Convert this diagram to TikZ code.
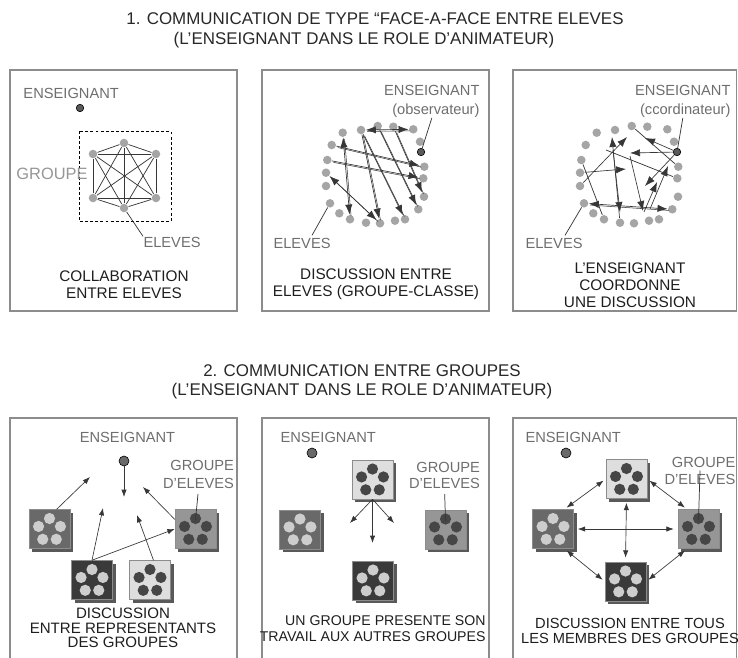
\documentclass[tikz,border=0pt]{standalone}
\usepackage{fontspec}
\setmainfont{Liberation Sans}
\usetikzlibrary{arrows.meta,calc}

\definecolor{cCadre}{RGB}{140,140,140}
\definecolor{cTitre}{RGB}{40,40,40}
\definecolor{cLegende}{RGB}{30,30,30}
\definecolor{cEtiq}{RGB}{110,110,110}
\definecolor{cEtiqClair}{RGB}{150,150,150}
\definecolor{cTrait}{RGB}{55,55,55}
\definecolor{cEleve}{RGB}{165,165,165}
\definecolor{cProf}{RGB}{90,90,90}
\definecolor{cFonce}{RGB}{58,58,58}
\definecolor{cMoyen}{RGB}{105,105,105}
\definecolor{cGris}{RGB}{150,150,150}
\definecolor{cClair}{RGB}{222,222,222}
\definecolor{cPtClair}{RGB}{205,205,205}
\definecolor{cPtFonce}{RGB}{70,70,70}

\tikzset{every picture/.style={line width=0.75pt}}
\tikzset{
  cadre/.style={draw=cCadre, line width=1.1pt},
  titre/.style={text=cTitre, font=\fontsize{12.7}{15}\selectfont, inner sep=0pt},
  legende/.style={text=cLegende, font=\fontsize{11.5}{12.9}\selectfont, align=center, inner sep=0pt},
  legendebas/.style={legende, font=\fontsize{11.3}{10.9}\selectfont},
  etiquette/.style={text=cEtiq, font=\fontsize{11}{14}\selectfont, inner sep=0pt},
  eleve/.style={circle, fill=cEleve, minimum size=6.4pt, inner sep=0pt},
  prof/.style={circle, fill=cProf, draw=black, line width=0.45pt, minimum size=5.6pt, inner sep=0pt},
  profbas/.style={prof, minimum size=7.5pt, fill=cMoyen},
  lien/.style={draw=cTrait, line width=0.55pt},
  renvoi/.style={draw=cTrait, line width=0.55pt},
  fleche/.style={draw=cTrait, line width=0.5pt, -{Latex[length=5.5pt,width=4pt]}},
  fleches/.style={draw=cTrait, line width=0.5pt, {Latex[length=5.5pt,width=4pt]}-{Latex[length=5.5pt,width=4pt]}},
  grosse/.style={draw=cTrait, line width=0.5pt, -{Latex[length=7.5pt,width=5.5pt]}},
  grosses/.style={draw=cTrait, line width=0.5pt, {Latex[length=7.5pt,width=5.5pt]}-{Latex[length=7.5pt,width=5.5pt]}},
  jumelle/.style={postaction={draw=cTrait, line width=0.4pt, -, transform canvas={shift={(1.1pt,-1.1pt)}}}},
  boite/.style={minimum width=30.75pt, minimum height=29.25pt, inner sep=0pt, draw=black!45, line width=0.4pt},
  ombre/.style={boite, fill=black!65, draw=none},
}

\begin{document}
\begin{tikzpicture}[x=0.75pt,y=0.75pt,yscale=-1,xscale=1]
	\useasboundingbox (0,0) rectangle (738,657);

	% Titres
	\node[titre] (t1a) at (375,19) {1. COMMUNICATION DE TYPE “FACE-A-FACE ENTRE ELEVES};
	\node[titre] (t1b) at (364,40) {(L’ENSEIGNANT DANS LE ROLE D’ANIMATEUR)};
	\node[titre] (t2a) at (362,371) {2. COMMUNICATION ENTRE GROUPES};
	\node[titre] (t2b) at (362,391) {(L’ENSEIGNANT DANS LE ROLE D’ANIMATEUR)};

	% Cadres
	\draw[cadre] (10,70) rectangle (237,311);
	\draw[cadre] (262,70) rectangle (489,311);
	\draw[cadre] (513,70) rectangle (736.5,311);
	\draw[cadre] (10,660) -- (10,418) -- (237,418) -- (237,660);
	\draw[cadre] (262,660) -- (262,418) -- (489,418) -- (489,660);
	\draw[cadre] (513,660) -- (513,418) -- (736.5,418) -- (736.5,660);

	%% 1a : collaboration entre eleves
	\node[etiquette, anchor=west] (ens1) at (23,93) {ENSEIGNANT};
	\node[prof] (p1) at (80,108) {};
	\draw[dash pattern=on 2.2pt off 1.6pt, line width=0.7pt] (79,131) rectangle (171,221);
	\node[eleve] (h1) at (124,143) {};
	\node[eleve] (h2) at (156,154) {};
	\node[eleve] (h3) at (156,198) {};
	\node[eleve] (h4) at (124,208) {};
	\node[eleve] (h5) at (93,198) {};
	\node[eleve] (h6) at (93,154) {};
	\foreach \i in {1,...,5}{
		\pgfmathtruncatemacro{\k}{\i+1}
		\foreach \j in {\k,...,6} \draw[lien] (h\i) -- (h\j);
	}
	\node[etiquette, anchor=east, text=cEtiqClair, font=\fontsize{12.3}{14}\selectfont] (grp1) at (88,174) {GROUPE};
	\node[etiquette, anchor=west] (elv1) at (143,242) {ELEVES};
	\draw[renvoi] (h4) -- (elv1.north west);
	\node[legende] (leg1) at (124,285) {COLLABORATION\\ENTRE ELEVES};

	%% 1b et 1c : cercles d'eleves
	\foreach \s/\dx in {a/0,b/254}{
		\foreach \i/\x/\y in {1/342.7/132.7, 2/361/130, 3/377.7/126, 4/393.3/126.7, 5/413.3/129.3, 6/420/141.7, 7/424.3/166.7, 8/423.3/178.3, 9/424/196.7, 10/418.3/209.3, 11/405/219.3, 12/395/220.7, 13/380/223.3, 14/366/222.7, 15/350/219.3, 16/339.3/213.3, 17/330/203.3, 18/326/186, 19/326/172.7, 20/327.3/160, 21/331.7/145}
			\node[eleve] (\s\i) at (\x+\dx,\y) {};
	}
	\node[prof] (pa) at (421,152) {};
	\node[prof] (pb) at (677,152) {};

	% 1b
	\node[etiquette, align=right, anchor=east] (ensa) at (480,101.5) {ENSEIGNANT\\(observateur)};
	\draw[renvoi] (pa) -- (ensa.south);
	\foreach \u/\v in {2/5, 1/15, 19/13} \draw[grosses, jumelle] (a\u) -- (a\v);
	\foreach \u/\v in {21/7, 20/8, 2/11, 3/10, 2/13, 4/9} \draw[grosse, jumelle] (a\u) -- (a\v);
	\node[etiquette, anchor=west] (elva) at (273,243) {ELEVES};
	\draw[renvoi] (a17) -- ($(elva.north)+(10,-2)$);
	\node[legende] (leg2) at (376,284) {DISCUSSION ENTRE\\ELEVES (GROUPE-CLASSE)};

	% 1c
	\node[etiquette, align=right, anchor=east] (ensb) at (731,101.5) {ENSEIGNANT\\(ccordinateur)};
	\draw[renvoi] (pb) -- (ensb.south);
	\coordinate (q1) at (630,153);
	\coordinate (q2) at (645,138);
	\coordinate (q3) at (645,186);
	\coordinate (q4) at (650,209);
	\coordinate (q5) at (668,166);
	\coordinate (q6) at (612,137);
	\coordinate (q7) at (627,137);
	\coordinate (q8) at (626,169);
	\coordinate (q9) at (613,150);
	\coordinate (q10) at (620,212);
	\coordinate (q11) at (630,156);
	\coordinate (q12) at (643,211);
	\coordinate (q13) at (644,212);
	\coordinate (q14) at (657,182);
	\coordinate (q15) at (606,150);
	\foreach \c in {q1,q2,q3} \draw[grosse] (pb) -- (\c);
	\draw[grosse] (q4) -- (q5);
	\draw[grosse] (q13) -- (q14);
	\draw[grosse] (b14) -- (q6);
	\draw[grosse] (b18) -- (q7);
	\draw[grosse] (b19) -- (q8);
	\draw[grosse] (q9) -- (q10);
	\draw[grosse] (q11) -- (q12);
	\draw[grosses, jumelle] (b17) -- (b10);
	\draw[lien] (b20) -- (b15);
	\draw[lien] (q15) -- (b8);
	\draw[lien] (b3) -- (b7);
	\node[etiquette, anchor=west] (elvb) at (525,243) {ELEVES};
	\draw[renvoi] (b17) -- ($(elvb.north)+(11,-2)$);
	\node[legende] (leg3) at (630,285.5) {L’ENSEIGNANT\\COORDONNE\\UNE DISCUSSION};

	%% 2 : groupes d'eleves
	\foreach \nom/\x/\y/\fond/\pnt in {g1a/49.5/529/cMoyen/cPtClair, g1b/195.5/529/cGris/cPtFonce, g1c/92/580/cFonce/cPtClair, g1d/150/580/cClair/cPtFonce,
		g2a/372.5/479.5/cClair/cPtFonce, g2b/300/529.5/cMoyen/cPtClair, g2c/445.5/529.5/cGris/cPtFonce, g2d/373/580.5/cFonce/cPtClair,
		g3a/626.5/479/cClair/cPtFonce, g3b/553/529/cMoyen/cPtClair, g3c/698.5/529/cGris/cPtFonce, g3d/625.5/581.5/cFonce/cPtClair}{
		\node[ombre] at (\x+3,\y+3) {};
		\node[boite, fill=\fond] (\nom) at (\x,\y) {};
		\foreach \ang in {270,342,54,126,198}
			\fill[\pnt] ($(\nom.center)+(0,1)+(\ang:11.5)$) circle (5.6);
	}

	% 2a
	\node[etiquette] (ens4) at (127.5,437) {ENSEIGNANT};
	\node[profbas] (p4) at (124,461) {};
	\coordinate (q20) at (124,497);
	\draw[fleche] (p4) -- (q20);
	\node[etiquette, align=right, font=\fontsize{11}{13.5}\selectfont] (grp4) at (198.5,474) {GROUPE\\D’ELEVES};
	\draw[renvoi, shorten <=4pt] (grp4.south) -- ($(g1b.center)+(0,-9)$);
	\coordinate (q21) at (90,477);
	\coordinate (q22) at (103,508);
	\coordinate (q23) at (137,515);
	\coordinate (q24) at (143,487);
	\draw[fleche] (g1a.70) -- (q21);
	\draw[fleche] (g1c.north) -- (q22);
	\draw[fleche] (g1c.north) -- (g1b.west);
	\draw[fleche] (g1d.80) -- (q23);
	\draw[fleche] (g1b.155) -- (q24);
	\node[legendebas] (leg4) at (123,628) {DISCUSSION\\ENTRE REPRESENTANTS\\DES GROUPES};

	% 2b
	\node[etiquette, anchor=west] (ens5) at (280,437) {ENSEIGNANT};
	\node[profbas] (p5) at (312,453) {};
	\node[etiquette, align=right, font=\fontsize{11}{12}\selectfont] (grp5) at (444.5,475) {GROUPE\\D’ELEVES};
	\draw[renvoi, shorten <=4pt] (grp5.south) -- ($(g2c.center)+(0,-9)$);
	\coordinate (q25) at (350,523);
	\coordinate (q26) at (372.5,543);
	\coordinate (q27) at (394,523);
	\foreach \c in {q25,q26,q27} \draw[fleche] (g2a.south) -- (\c);
	\node[legendebas, align=right, anchor=east, font=\fontsize{10.6}{12}\selectfont] (leg5) at (486,629) {UN GROUPE PRESENTE SON\\TRAVAIL AUX AUTRES GROUPES};

	% 2c
	\node[etiquette, anchor=west] (ens6) at (525,437) {ENSEIGNANT};
	\node[profbas] (p6) at (566,453) {};
	\node[etiquette, align=right, anchor=east, font=\fontsize{11}{12.75}\selectfont] (grp6) at (736,470.5) {GROUPE\\D’ELEVES};
	\draw[renvoi] (grp6.center) -- ($(g3c.center)+(0,-9)$);
	\draw[fleches, shorten <=2pt, shorten >=2pt] (g3a.west) -- (g3b.60);
	\draw[fleches, shorten <=2pt, shorten >=2pt] (g3a.east) -- (g3c.120);
	\draw[fleches, shorten <=2pt, shorten >=2pt] (g3b.300) -- (g3d.west);
	\draw[fleches, shorten <=2pt, shorten >=2pt] (g3c.240) -- (g3d.east);
	\draw[fleches, shorten <=3pt, shorten >=3pt] (g3b.east) -- (g3c.west);
	\draw[fleches, shorten <=3pt, shorten >=3pt] (g3a.south) -- (g3d.north);
	\node[legendebas, font=\fontsize{11}{11.25}\selectfont] (leg6) at (630,630.5) {DISCUSSION ENTRE TOUS\\LES MEMBRES DES GROUPES};

\end{tikzpicture}
\end{document}
